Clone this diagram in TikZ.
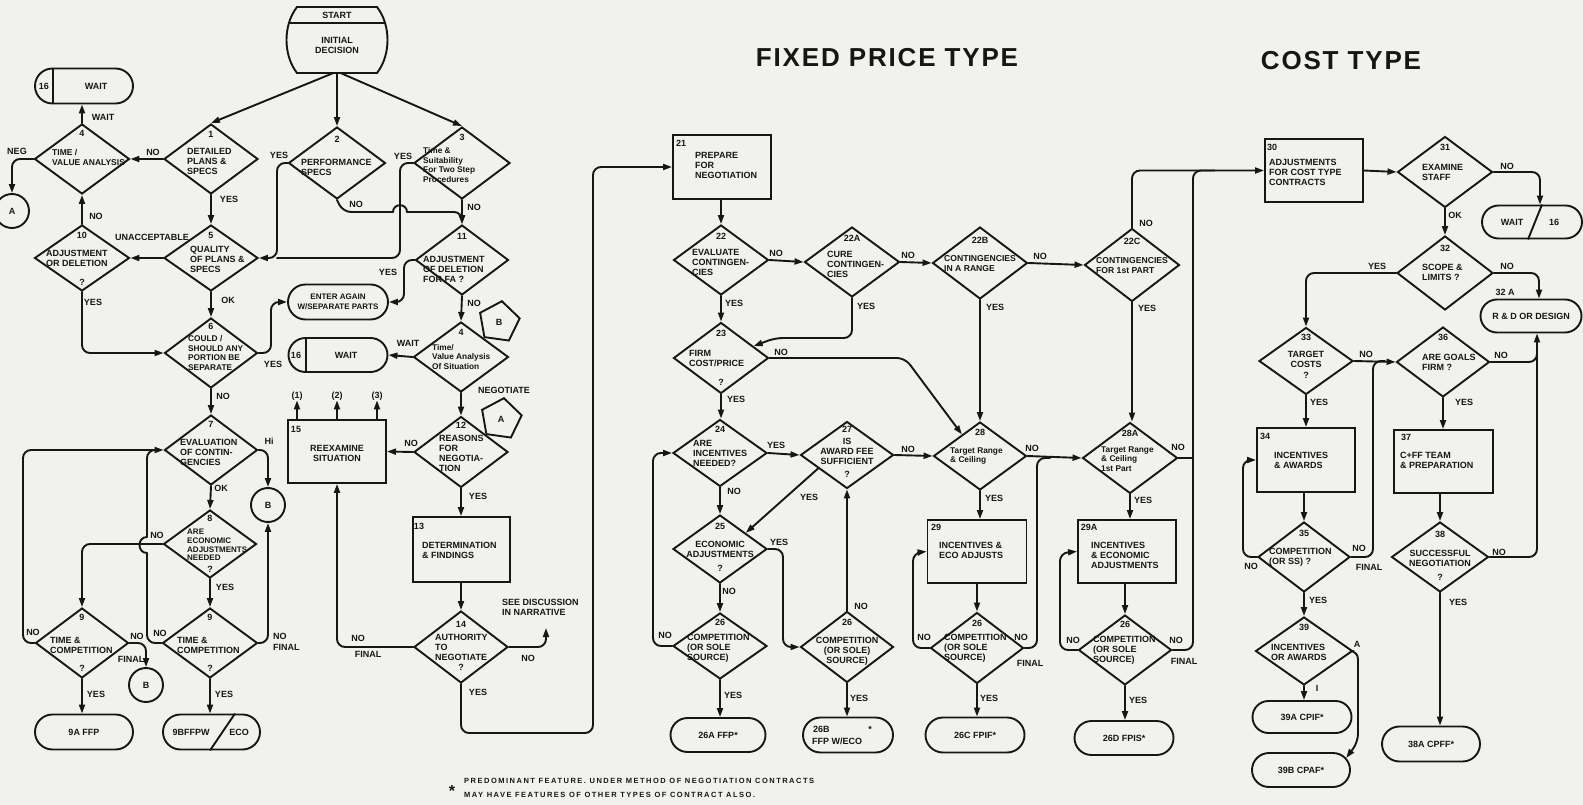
\documentclass[tikz,border=0pt]{standalone}
\usepackage{fontspec}
\setmainfont{Liberation Sans}
\newfontfamily\fnspaced[LetterSpace=20]{Liberation Sans}
\newfontfamily\ttlfont[LetterSpace=7]{Liberation Sans}
\usetikzlibrary{shapes.geometric,shapes.misc,arrows.meta}
\definecolor{ink}{RGB}{22,22,22}
\definecolor{paper}{RGB}{241,241,238}
\newcommand\mkdia[4]{\node[dia, minimum width=#3pt, minimum height=#4pt] (#1) at #2 {};}
\begin{document}
\begin{tikzpicture}[x=1pt,y=-1pt,
  every node/.style={font=\bfseries\fontsize{9}{10}\selectfont, inner sep=0pt, text=ink},
  shp/.style={draw=ink, line width=1.9pt},
  dia/.style={shp, diamond},
  box/.style={shp, rectangle},
  term/.style={shp, rounded rectangle},
  circ/.style={shp, circle, minimum size=34pt},
  pent/.style={shp, regular polygon, regular polygon sides=5, minimum size=42pt, shape border rotate=-8},
  tl/.style={align=left, anchor=west},
  tc/.style={align=center},
  mx/.style={font=\bfseries\fontsize{8.3}{9.4}\selectfont, align=left, anchor=west},
  sm/.style={font=\bfseries\fontsize{8}{10}\selectfont},
  arr/.style={draw=ink, line width=1.9pt, rounded corners=8pt, line cap=round, -{Triangle[length=9pt,width=6pt]}},
  ln/.style={draw=ink, line width=1.9pt, rounded corners=8pt, line cap=round},
]
\useasboundingbox (0,0) rectangle (1583,805);
\fill[paper] (0,0) rectangle (1583,805);

% ---------- titles ----------
\node[font=\ttlfont\bfseries\fontsize{26}{30}\selectfont] (title1) at (887,58) {FIXED PRICE TYPE};
\node[font=\ttlfont\bfseries\fontsize{26}{30}\selectfont] (title2) at (1341,61) {COST TYPE};

% ---------- start ----------
\draw[shp] (297,7) -- (377,7) .. controls (391,25) and (391,55) .. (377,73) -- (297,73) .. controls (283,55) and (283,25) .. (297,7) -- cycle;
\draw[shp] (289,23) -- (385,23);
\node[minimum width=95pt, minimum height=66pt] (start) at (337,40) {};
\node (startT) at (337,15) {START};
\node[tc] (startD) at (337,45) {INITIAL\\DECISION};

% ---------- left column ----------
\node[term, minimum width=98pt, minimum height=35pt] (t16a) at (84,86) {};
\draw[shp] ([xshift=-31pt]t16a.north) -- ([xshift=-31pt]t16a.south);
\node (t16an) at (44,86) {16};
\node (t16aw) at (96,86) {WAIT};

\mkdia{d4a}{(82,159)}{95}{70}
\node (n4a) at (82,133) {4};
\node[tl, font=\bfseries\fontsize{8.5}{10}\selectfont] (x4a) at (52,157) {TIME /\\VALUE ANALYSIS};
\node[circ] (cA) at (12,211) {A};

\mkdia{d1}{(211,159)}{94}{70}
\node (n1) at (211,134) {1};
\node[tl] (x1) at (187,161) {DETAILED\\PLANS \&\\SPECS};

\mkdia{d5}{(211,258)}{94}{66}
\node (n5) at (211,235) {5};
\node[tl] (x5) at (190,259) {QUALITY\\OF PLANS \&\\SPECS};

\mkdia{d10}{(82,258)}{95}{66}
\node (n10) at (82,235) {10};
\node[tl] (x10) at (46,258) {ADJUSTMENT\\OR DELETION};
\node (q10) at (82,282) {?};

\mkdia{d2}{(337,163)}{97}{72}
\node (n2) at (337,139) {2};
\node[tl] (x2) at (301,167) {PERFORMANCE\\SPECS};

\mkdia{d3}{(462,163)}{96}{72}
\node (n3) at (462,137) {3};
\node[mx] (x3) at (423,165) {Time \&\\Suitability\\For Two Step\\Procedures};

\mkdia{d11}{(462,260)}{93}{70}
\node (n11) at (462,236) {11};
\node[tl] (x11) at (423,269) {ADJUSTMENT\\OF DELETION\\FOR FA ?};

\node[term, minimum width=100pt, minimum height=35pt] (tEA) at (338,302) {};
\node[tc, sm] (xEA) at (338,302) {ENTER AGAIN\\W/SEPARATE PARTS};

\mkdia{d6}{(211,353)}{93}{70}
\node (n6) at (211,326) {6};
\node[tl, font=\bfseries\fontsize{8.3}{9.4}\selectfont] (x6) at (188,353) {COULD /\\SHOULD ANY\\PORTION BE\\SEPARATE};

\node[term, minimum width=99pt, minimum height=34pt] (t16b) at (338,355) {};
\draw[shp] ([xshift=-32pt]t16b.north) -- ([xshift=-32pt]t16b.south);
\node (t16bn) at (296,355) {16};
\node (t16bw) at (346,355) {WAIT};

\mkdia{d4b}{(461,357)}{95}{70}
\node (n4b) at (461,332) {4};
\node[mx] (x4b) at (432,357) {Time/\\Value Analysis\\Of Situation};

\node[pent] (pB) at (499,322) {B};
\node[pent] (pA) at (501,419) {A};

\mkdia{d12}{(461,452)}{94}{71}
\node (n12) at (461,425) {12};
\node[tl] (x12) at (439,453) {REASONS\\FOR\\NEGOTIA-\\TION};

\node[box, minimum width=98pt, minimum height=63pt] (b15) at (337,451.5) {};
\node (n15) at (296,429) {15};
\node[tc] (x15) at (337,453) {REEXAMINE\\SITUATION};
\node (p1) at (297,396) {(1)};
\node (p2) at (337,396) {(2)};
\node (p3) at (377,396) {(3)};

\node[box, minimum width=97pt, minimum height=65pt] (b13) at (461.5,549.5) {};
\node (n13) at (419,526) {13};
\node[tl] (x13) at (422,550) {DETERMINATION\\\& FINDINGS};

\mkdia{d14}{(461,647)}{94}{72}
\node (n14) at (461,624) {14};
\node[tl] (x14) at (435,647) {AUTHORITY\\TO\\NEGOTIATE};
\node (q14) at (461,667) {?};
\node[tl] (see) at (502,607) {SEE DISCUSSION\\IN NARRATIVE};
\coordinate (seeA) at (546,628);

\mkdia{d7}{(211,450)}{93}{70}
\node (n7) at (211,424) {7};
\node[tl] (x7) at (180,452) {EVALUATION\\OF CONTIN-\\GENCIES};
\node[circ] (cB1) at (268,505) {B};

\mkdia{d8}{(210,544)}{93}{68}
\node (n8) at (210,518) {8};
\node[tl, font=\bfseries\fontsize{8}{8.6}\selectfont] (x8) at (187,545) {ARE\\ECONOMIC\\ADJUSTMENTS\\NEEDED};
\node (q8) at (210,569) {?};

\mkdia{d9a}{(82,643)}{93}{70}
\node (n9a) at (82,617) {9};
\node[tl] (x9a) at (50,645) {TIME \&\\COMPETITION};
\node (q9a) at (82,668) {?};
\node[circ] (cB2) at (146,685) {B};
\node[term, minimum width=98pt, minimum height=35pt] (t9A) at (84,732) {};
\node (x9A) at (84,732) {9A FFP};

\mkdia{d9b}{(210,643)}{95}{70}
\node (n9b) at (210,617) {9};
\node[tl] (x9b) at (177,645) {TIME \&\\COMPETITION};
\node (q9b) at (210,668) {?};
\node[term, minimum width=97pt, minimum height=35pt] (t9B) at (211.5,732) {};
\draw[shp] ([xshift=-1.5pt]t9B.south) -- ([xshift=23.5pt]t9B.north);
\node (x9Ba) at (191,732) {9BFFPW};
\node (x9Bb) at (239,732) {ECO};

% ---------- fixed price column ----------
\node[box, minimum width=98pt, minimum height=64pt] (b21) at (722,167) {};
\node (n21) at (681,143) {21};
\node[tl] (x21) at (695,165) {PREPARE\\FOR\\NEGOTIATION};

\mkdia{d22}{(721,260)}{95}{70}
\node (n22) at (721,236) {22};
\node[tl] (x22) at (692,262) {EVALUATE\\CONTINGEN-\\CIES};

\mkdia{d22a}{(852,262)}{95}{70}
\node (n22a) at (852,238) {22A};
\node[tl] (x22a) at (827,264) {CURE\\CONTINGEN-\\CIES};

\mkdia{d22b}{(980,263)}{95}{72}
\node (n22b) at (980,240) {22B};
\node[tl, font=\bfseries\fontsize{8.6}{10}\selectfont] (x22b) at (944,264) {CONTINGENCIES\\IN A RANGE};

\mkdia{d22c}{(1132,265)}{95}{73}
\node (n22c) at (1132,241) {22C};
\node[tl, font=\bfseries\fontsize{8.6}{10}\selectfont] (x22c) at (1096,266) {CONTINGENCIES\\FOR 1st PART};

\mkdia{d23}{(721,358)}{95}{71}
\node (n23) at (721,333) {23};
\node[tl] (x23) at (689,358) {FIRM\\COST/PRICE};
\node (q23) at (721,382) {?};

\mkdia{d24}{(720,453)}{94}{67}
\node (n24) at (720,429) {24};
\node[tl] (x24) at (693,453) {ARE\\INCENTIVES\\NEEDED?};

\mkdia{d27}{(847,455)}{93}{67}
\node (n27) at (847,429) {27};
\node[tc] (x27) at (847,451) {IS\\AWARD FEE\\SUFFICIENT};
\node (q27) at (847,474) {?};

\mkdia{d28}{(980,456)}{93}{68}
\node (n28) at (980,432) {28};
\node[mx] (x28) at (950,456) {Target Range\\\& Ceiling};

\mkdia{d25}{(720,549)}{94}{68}
\node (n25) at (720,526) {25};
\node[tc] (x25) at (720,549) {ECONOMIC\\ADJUSTMENTS};
\node (q25) at (720,568) {?};

\mkdia{d26a}{(720,646)}{94}{66}
\node (n26a) at (720,622) {26};
\node[tl] (x26a) at (687,648) {COMPETITION\\(OR SOLE\\SOURCE)};

\mkdia{d26b}{(847,647)}{93}{71}
\node (n26b) at (847,622) {26};
\node[tc] (x26b) at (847,651) {COMPETITION\\(OR SOLE)\\SOURCE)};

\node[term, minimum width=95pt, minimum height=34pt] (t26A) at (718,735) {};
\node (x26A) at (718,735) {26A FFP*};
\node[term, minimum width=90pt, minimum height=35pt] (t26B) at (848,735) {};
\node[anchor=west] (x26Ba) at (813,729) {26B};
\node (x26Bs) at (870,729) {*};
\node[anchor=west] (x26Bb) at (812,741) {FFP W/ECO};

\node[box, minimum width=99pt, minimum height=63pt] (b29) at (977,551.5) {};
\node (n29) at (936,527) {29};
\node[tl] (x29) at (939,550) {INCENTIVES \&\\ECO ADJUSTS};

\mkdia{d26c}{(977,648)}{93}{71}
\node (n26c) at (977,623) {26};
\node[tl] (x26c) at (944,648) {COMPETITION\\(OR SOLE\\SOURCE)};
\node[term, minimum width=99pt, minimum height=35pt] (t26C) at (975,735) {};
\node (x26C) at (975,735) {26C FPIF*};

\mkdia{d28a}{(1130,458)}{95}{71}
\node (n28a) at (1130,433) {28A};
\node[mx] (x28a) at (1101,459) {Target Range\\\& Ceiling\\1st Part};

\node[box, minimum width=98pt, minimum height=63pt] (b29a) at (1127,551.5) {};
\node (n29a) at (1089,527) {29A};
\node[tl] (x29a) at (1091,555) {INCENTIVES\\\& ECONOMIC\\ADJUSTMENTS};

\mkdia{d26d}{(1125,650)}{93}{70}
\node (n26d) at (1125,624) {26};
\node[tl] (x26d) at (1093,650) {COMPETITION\\(OR SOLE\\SOURCE)};
\node[term, minimum width=99pt, minimum height=34pt] (t26D) at (1124,738) {};
\node (x26D) at (1124,738) {26D FPIS*};

% ---------- cost column ----------
\node[box, minimum width=98pt, minimum height=63pt] (b30) at (1314,170.5) {};
\node (n30) at (1272,147) {30};
\node[tl] (x30) at (1269,172) {ADJUSTMENTS\\FOR COST TYPE\\CONTRACTS};

\mkdia{d31}{(1445,172)}{95}{71}
\node (n31) at (1445,147) {31};
\node[tl] (x31) at (1422,172) {EXAMINE\\STAFF};
\node[term, minimum width=100pt, minimum height=33pt] (tW16) at (1532,222) {};
\draw[shp] ([xshift=-4pt]tW16.south) -- ([xshift=10pt]tW16.north);
\node (xW16a) at (1512,222) {WAIT};
\node (xW16b) at (1554,222) {16};

\mkdia{d32}{(1445,273)}{96}{74}
\node (n32) at (1445,248) {32};
\node[tl] (x32) at (1422,272) {SCOPE \&\\LIMITS ?};
\node[term, minimum width=101pt, minimum height=33pt] (t32a) at (1531,316) {};
\node (x32a) at (1531,316) {R \& D OR DESIGN};
\node (n32a) at (1505,292) {32 A};

\mkdia{d33}{(1306,361)}{94}{67}
\node (n33) at (1306,337) {33};
\node[tc] (x33) at (1306,359) {TARGET\\COSTS};
\node (q33) at (1306,375) {?};

\mkdia{d36}{(1443,362)}{93}{70}
\node (n36) at (1443,337) {36};
\node[tl] (x36) at (1422,362) {ARE GOALS\\FIRM ?};

\node[box, minimum width=98pt, minimum height=64pt] (b34) at (1306,460) {};
\node (n34) at (1265,436) {34};
\node[tl] (x34) at (1274,460) {INCENTIVES\\\& AWARDS};

\mkdia{d35}{(1304,557)}{92}{70}
\node (n35) at (1304,533) {35};
\node[tl] (x35) at (1269,557) {COMPETITION\\(OR SS) ?};

\mkdia{d39}{(1304,651)}{97}{68}
\node (n39) at (1304,627) {39};
\node[tl] (x39) at (1271,652) {INCENTIVES\\OR AWARDS};
\node[term, minimum width=99pt, minimum height=32pt] (t39A) at (1302,717) {};
\node (x39A) at (1302,717) {39A CPIF*};
\node[term, minimum width=98pt, minimum height=34pt] (t39B) at (1301,770) {};
\node (x39B) at (1301,770) {39B CPAF*};

\node[box, minimum width=99pt, minimum height=63pt] (b37) at (1443.5,461.5) {};
\node (n37) at (1406,437) {37};
\node[tl] (x37) at (1400,460) {C+FF TEAM\\\& PREPARATION};

\mkdia{d38}{(1440,557)}{97}{70}
\node (n38) at (1440,534) {38};
\node[tc] (x38) at (1440,558) {SUCCESSFUL\\NEGOTIATION};
\node (q38) at (1440,577) {?};
\node[term, minimum width=98pt, minimum height=35pt] (t38A) at (1431,744) {};
\node (x38A) at (1431,744) {38A CPFF*};

% ---------- footnote ----------
\node[font=\bfseries\fontsize{16}{16}\selectfont] (ast) at (452,791) {*};
\node[anchor=west, font=\fnspaced\bfseries\fontsize{7.5}{8}\selectfont] (fn1) at (464,781) {PREDOMINANT FEATURE. UNDER METHOD OF NEGOTIATION CONTRACTS};
\node[anchor=west, font=\fnspaced\bfseries\fontsize{7.5}{8}\selectfont] (fn2) at (464,795) {MAY HAVE FEATURES OF OTHER TYPES OF CONTRACT ALSO.};

% ---------- connectors: left ----------
\draw[arr] ([xshift=-4pt]start.south) -- (d1.north);
\draw[arr] (start.south) -- (d2.north);
\draw[arr] ([xshift=4pt]start.south) -- (d3.north);

\draw[arr] (d1.west) -- (d4a.east);
\node (l1) at (153,152) {NO};
\draw[arr] (d4a.north) -- (d4a.north |- t16a.south);
\node (l2) at (103,117) {WAIT};
\draw[arr] (d4a.west) -| (cA.north);
\node (l3) at (17,151) {NEG};
\draw[arr] (d1.south) -- (d5.north);
\node (l4) at (229,199) {YES};
\draw[arr] (d5.west) -- (d10.east);
\node (l5) at (152,237) {UNACCEPTABLE};
\draw[arr] (d10.north) -- (d4a.south);
\node (l6) at (96,216) {NO};
\draw[arr] (d2.west) -- (277,163) -- (277,258) -- (d5.east);
\node (l7) at (279,155) {YES};
\draw[ln] (d3.west) -- (400,163) -- (400,258) -- (277,258);
\node (l8) at (403,156) {YES};

\draw[ln] (d2.south) -- (343,212) -- (393,212);
\draw[ln] (393,212) .. controls (393,203) and (407,203) .. (407,212);
\draw[arr] (407,212) -- (462,212) -- (d11.north);
\node (l9) at (356,204) {NO};
\draw[arr] (d3.south) -- (d11.north);
\node (l10) at (474,207) {NO};

\draw[arr] (d5.south) -- (d6.north);
\node (l11) at (228,300) {OK};
\draw[arr] (d10.south) -- (82,353) -- (d6.west);
\node (l12) at (93,302) {YES};
\draw[arr] (d6.east) -- (271,353) -- (271,302) -- (tEA.west);
\node (l13) at (273,364) {YES};
\draw[arr] (d11.west) -- (404,260) -- (404,302) -- (tEA.east);
\node (l14) at (388,272) {YES};
\draw[arr] (d11.south) -- (d4b.north);
\node (l15) at (474,303) {NO};
\draw[arr] (d4b.west) -- (t16b.east);
\node (l16) at (408,343) {WAIT};
\draw[arr] (d4b.south) -- (d12.north);
\node (l17) at (504,390) {NEGOTIATE};
\draw[arr] (d12.west) -- (b15.east);
\node (l18) at (411,443) {NO};
\draw[arr] (d12.south) -- (d12.south |- b13.north);
\node (l19) at (478,496) {YES};
\draw[arr] (b13.south -| d14.north) -- (d14.north);
\draw[arr] (d14.east) -- (546,647) -- (seeA);
\node (l20) at (528,658) {NO};
\draw[arr] (d14.west) -| (b15.south);
\node (l21) at (358,638) {NO};
\node (l22) at (368,654) {FINAL};
\draw[arr] (d14.south) -- (461,733) -- (593,733) -- (593,167) -- (b21.west);
\node (l23) at (478,692) {YES};
\draw[arr] (p1.south |- b15.north) -- (p1.south);
\draw[arr] (p2.south |- b15.north) -- (p2.south);
\draw[arr] (p3.south |- b15.north) -- (p3.south);

\draw[arr] (d6.south) -- (d7.north);
\node (l24) at (223,396) {NO};
\draw[arr] (d7.east) -| (cB1.north);
\node (l25) at (269,441) {Hi};
\draw[arr] (d7.south) -- (d8.north);
\node (l26) at (221,488) {OK};
\draw[arr] (d8.south) -- (d9b.north);
\node (l27) at (225,587) {YES};
\draw[arr] (d8.west) -| (d9a.north);
\node (l28) at (157,535) {NO};
\draw[arr] (d9a.west) -- (23,643) -- (23,450) -- (d7.west);
\node (l29) at (33,632) {NO};
\draw[ln] (d9b.west) -- (147,643) -- (147,553);
\draw[ln] (147,553) .. controls (137,553) and (137,537) .. (147,537);
\draw[ln] (147,537) -- (147,450) -- (160,450);
\node (l30) at (160,633) {NO};
\draw[arr] (d9a.east) -| (cB2.north);
\node (l31) at (137,636) {NO};
\node (l32) at (131,659) {FINAL};
\draw[arr] (d9b.east) -| (cB1.south);
\node[anchor=west] (l33) at (273,636) {NO};
\node[anchor=west] (l34) at (273,647) {FINAL};
\draw[arr] (d9a.south) -- (d9a.south |- t9A.north);
\node (l35) at (96,694) {YES};
\draw[arr] (d9b.south) -- (d9b.south |- t9B.north);
\node (l36) at (224,694) {YES};

% ---------- connectors: fixed price ----------
\draw[arr] (b21.south -| d22.north) -- (d22.north);
\draw[arr] (d22.east) -- (d22a.west);
\node (l40) at (776,253) {NO};
\draw[arr] (d22a.east) -- (d22b.west);
\node (l41) at (908,255) {NO};
\draw[arr] (d22b.east) -- (d22c.west);
\node (l42) at (1040,256) {NO};
\draw[arr] (d22c.north) |- (b30.west);
\node (l43) at (1146,223) {NO};
\draw[ln] (d26d.east) -- (1193,650) -- (1193,170.5) -- (1215,170.5);
\node (l44) at (1176,640) {NO};
\node (l44b) at (1184,661) {FINAL};
\draw[ln] (d28a.east) -- (1193,458);
\node (l45) at (1178,447) {NO};
\draw[arr] (d22a.south) |- (775,338) -- (d23.20);
\node (l46) at (866,306) {YES};
\draw[arr] (d22b.south) -- (d28.north);
\node (l47) at (995,307) {YES};
\draw[arr] (d22c.south) -- (d22c.south |- d28a.north);
\node (l48) at (1147,308) {YES};
\draw[arr] (d22.south) -- (d23.north);
\node (l49) at (734,303) {YES};
\draw[arr] (d23.east) -- (905,358) -- (d28.130);
\node (l50) at (781,352) {NO};
\draw[arr] (d23.south) -- (d23.south |- d24.north);
\node (l51) at (736,399) {YES};
\draw[arr] (d24.east) -- (d27.west);
\node (l52) at (776,445) {YES};
\draw[arr] (d27.east) -- (d28.west);
\node (l53) at (908,449) {NO};
\draw[arr] (d27.205) -- (d25.32);
\node (l54) at (809,497) {YES};
\draw[arr] (d24.south) -- (d25.north);
\node (l55) at (734,491) {NO};
\draw[arr] (d25.east) -- (783,549) -- (783,647) -- (d26b.west);
\node (l56) at (779,542) {YES};
\draw[arr] (d25.south) -- (d26a.north);
\node (l57) at (729,591) {NO};
\draw[arr] (d26a.west) -- (653,646) -- (653,453) -- (d24.west);
\node (l58) at (665,635) {NO};
\draw[arr] (d26a.south) -- (d26a.south |- t26A.north);
\node (l59) at (733,695) {YES};
\draw[arr] (d26b.north) -- (d27.south);
\node (l60) at (861,606) {NO};
\draw[arr] (d26b.south) -- (d26b.south |- t26B.north);
\node (l61) at (859,698) {YES};
\draw[arr] (d28.south) -- (d28.south |- b29.north);
\node (l62) at (994,498) {YES};
\draw[arr] (b29.south) -- (d26c.north);
\draw[arr] (d26c.west) -- (913,648) -- (913,553) -- (b29.west);
\node (l63) at (924,637) {NO};
\draw[ln] (d26c.east) -- (1037,648) -- (1037,458) -- (1050,458);
\draw[arr] (d28.east) -- (d28a.west);
\node (l64) at (1032,448) {NO};
\node (l65) at (1021,637) {NO};
\node (l66) at (1030,663) {FINAL};
\draw[arr] (d28a.south) -- (d28a.south |- b29a.north);
\node (l67) at (1143,500) {YES};
\draw[arr] (b29a.south -| d26d.north) -- (d26d.north);
\draw[arr] (d26d.west) -- (1060,650) -- (1060,553) -- (b29a.west);
\node (l68) at (1073,640) {NO};
\draw[arr] (d26c.south) -- (d26c.south |- t26C.north);
\node (l69) at (989,698) {YES};
\draw[arr] (d26d.south) -- (d26d.south |- t26D.north);
\node (l70) at (1138,700) {YES};

% ---------- connectors: cost ----------
\draw[arr] (b30.east) -- (d31.west);
\draw[arr] (d31.east) -| ([xshift=8pt]tW16.north);
\node (l80) at (1507,166) {NO};
\draw[arr] (d31.south) -- (d32.north);
\node (l81) at (1455,215) {OK};
\draw[arr] (d32.east) -| ([xshift=8pt]t32a.north);
\node (l82) at (1507,266) {NO};
\draw[arr] (d32.west) -| (d33.north);
\node (l83) at (1377,266) {YES};
\draw[arr] (d33.east) -- (d36.west);
\node (l84) at (1366,354) {NO};
\draw[ln] (d35.east) -- (1373,557) -- (1373,361) -- (1385,361);
\node (l85) at (1359,548) {NO};
\node (l86) at (1369,567) {FINAL};
\draw[arr] (d33.south) -- (d33.south |- b34.north);
\node (l87) at (1319,402) {YES};
\draw[arr] (b34.south -| d35.north) -- (d35.north);
\draw[arr] (d35.west) -- (1243,557) -- (1243,460) -- (b34.west);
\node (l88) at (1251,566) {NO};
\draw[arr] (d35.south) -- (d39.north);
\node (l89) at (1318,600) {YES};
\draw[arr] (d39.south) -- (d39.south |- t39A.north);
\node (l90) at (1317,688) {I};
\draw[arr] (d39.east) -- (1358,651) -- (1358,742) -- (t39B.15);
\node (l91) at (1357,644) {A};
\draw[arr] (d36.south) -- (d36.south |- b37.north);
\node (l92) at (1464,402) {YES};
\draw[ln] (d36.east) -- (1537,362) -- (1537,345);
\node (l93) at (1501,355) {NO};
\draw[arr] (d38.east) -| ([xshift=6pt]t32a.south);
\node (l94) at (1499,552) {NO};
\draw[arr] (b37.south -| d38.north) -- (d38.north);
\draw[arr] (d38.south) -- (d38.south |- t38A.north);
\node (l95) at (1458,602) {YES};
\end{tikzpicture}
\end{document}
